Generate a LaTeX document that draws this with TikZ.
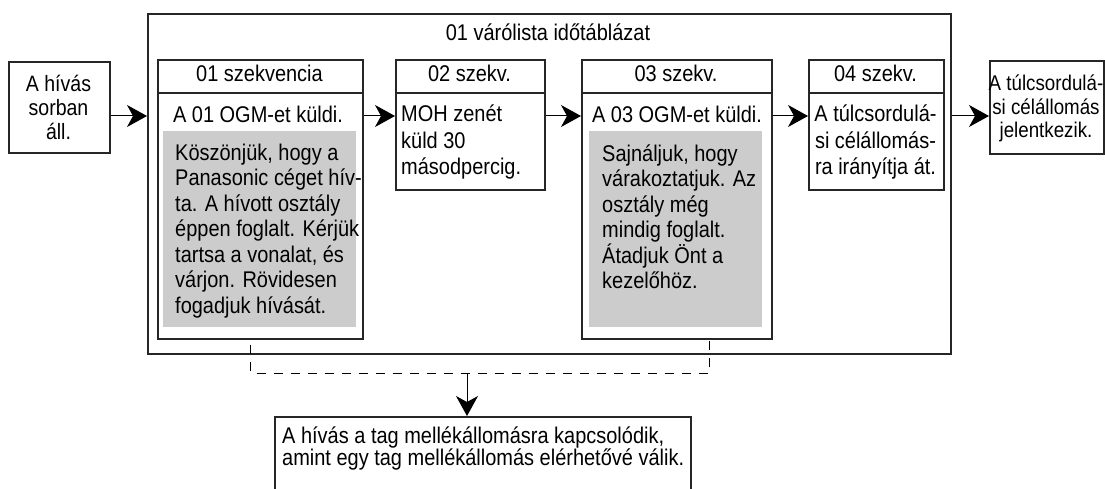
\documentclass[tikz,border=0pt]{standalone}
\usepackage{fontspec}
\setmainfont[FakeStretch=0.88]{Liberation Sans}
\usetikzlibrary{arrows.meta,calc}
\begin{document}
\begin{tikzpicture}[x=1pt,y=-1pt,
  box/.style={draw=black!85,line width=1.7pt,fill=white,inner sep=0pt,anchor=north west},
  greybox/.style={fill=black!20,draw=none,inner sep=0pt,anchor=north west},
  txt/.style={inner sep=0pt,font=\fontsize{22.7}{25.5}\selectfont},
  flow/.style={line width=1pt,-{Stealth[length=20pt,width=22pt,inset=6pt]}},
  bracket/.style={line width=1pt,dash pattern=on 9pt off 8pt,dash phase=12pt}]
\useasboundingbox (0,0) rectangle (1105,489);
\clip (0,0) rectangle (1105,489);

% queue time table frame
\node[box,minimum width=803,minimum height=340] (tbl) at (147,13) {};
\node[txt,anchor=base] (title) at (548,41) {01 várólista időtáblázat};

% start and end stations (multi-line texts are placed by their last baseline)
\node[box,minimum width=101,minimum height=91] (start) at (8,61) {};
\node[txt,anchor=base,align=center,font=\fontsize{22.2}{24}\selectfont] at (58.5,140) {A hívás\\sorban\\áll.};
\node[box,minimum width=114,minimum height=93] (dest) at (989,60) {};
\node[txt,anchor=base,align=center,font=\fontsize{21.3}{23.5}\selectfont] at (1046,138) {A túlcsordulá-\\si célállomás\\jelentkezik.};

% sequence 01
\node[box,minimum width=205,minimum height=33] (s1h) at (157,59) {};
\node[box,minimum width=205,minimum height=246] (s1b) at (157,92) {};
\node[txt,anchor=base] at (259.5,82) {01 szekvencia};
\node[txt,anchor=base] at (258,123) {A 01 OGM-et küldi.};
\node[greybox,minimum width=193,minimum height=196] (g1) at (163,131) {};
\node[txt,anchor=base west,align=left] at (175,313) {Köszönjük, hogy a\\Panasonic céget hív-\\ta. A hívott osztály\\éppen foglalt. Kérjük\\tartsa a vonalat, és\\várjon. Rövidesen\\fogadjuk hívását.};

% sequence 02
\node[box,minimum width=149,minimum height=33] (s2h) at (395,59) {};
\node[box,minimum width=149,minimum height=97] (s2b) at (395,92) {};
\node[txt,anchor=base] at (469.5,82) {02 szekv.};
\node[txt,anchor=base west,align=left,font=\fontsize{22.7}{26.5}\selectfont] at (401,175) {MOH zenét\\küld 30\\másodpercig.};

% sequence 03
\node[box,minimum width=190,minimum height=33] (s3h) at (581,59) {};
\node[box,minimum width=190,minimum height=246] (s3b) at (581,92) {};
\node[txt,anchor=base] at (676,82) {03 szekv.};
\node[txt,anchor=base] at (677,123) {A 03 OGM-et küldi.};
\node[greybox,minimum width=173,minimum height=196] (g3) at (589,131) {};
\node[txt,anchor=base west,align=left] at (602,288.5) {Sajnáljuk, hogy\\várakoztatjuk. Az\\osztály még\\mindig foglalt.\\Átadjuk Önt a\\kezelőhöz.};

% sequence 04
\node[box,minimum width=135,minimum height=33] (s4h) at (808,59) {};
\node[box,minimum width=135,minimum height=97] (s4b) at (808,92) {};
\node[txt,anchor=base] at (875.5,82) {04 szekv.};
\node[txt,anchor=base,align=center,font=\fontsize{22.7}{26.5}\selectfont] at (875.5,175) {A túlcsordulá-\\si célállomás-\\ra irányítja át.};

% extension note
\node[box,minimum width=416,minimum height=100] (note) at (274,416) {};
\node[txt,anchor=base west,align=left,font=\fontsize{22.7}{22}\selectfont] at (282,465) {A hívás a tag mellékállomásra kapcsolódik,\\amint egy tag mellékállomás elérhetővé válik.};

% main flow
\coordinate (row) at (0,116);
\draw[flow] (start.east |- row) -- (tbl.west |- row);
\draw[flow] (s1b.east |- row) -- (s2b.west |- row);
\draw[flow] (s2b.east |- row) -- (s3b.west |- row);
\draw[flow] (s3b.east |- row) -- (s4b.west |- row);
\draw[flow] (tbl.east |- row) -- (dest.west |- row);

% bracket to the extension note
\coordinate (split) at (467,373);
\draw[bracket] ([xshift=-9.5pt]s1b.south) -- ([xshift=-9.5pt]s1b.south |- split) -- ([xshift=33pt]s3b.south |- split) -- ([xshift=33pt]s3b.south);
\draw[flow] (split) -- (split |- note.north);
\end{tikzpicture}
\end{document}
